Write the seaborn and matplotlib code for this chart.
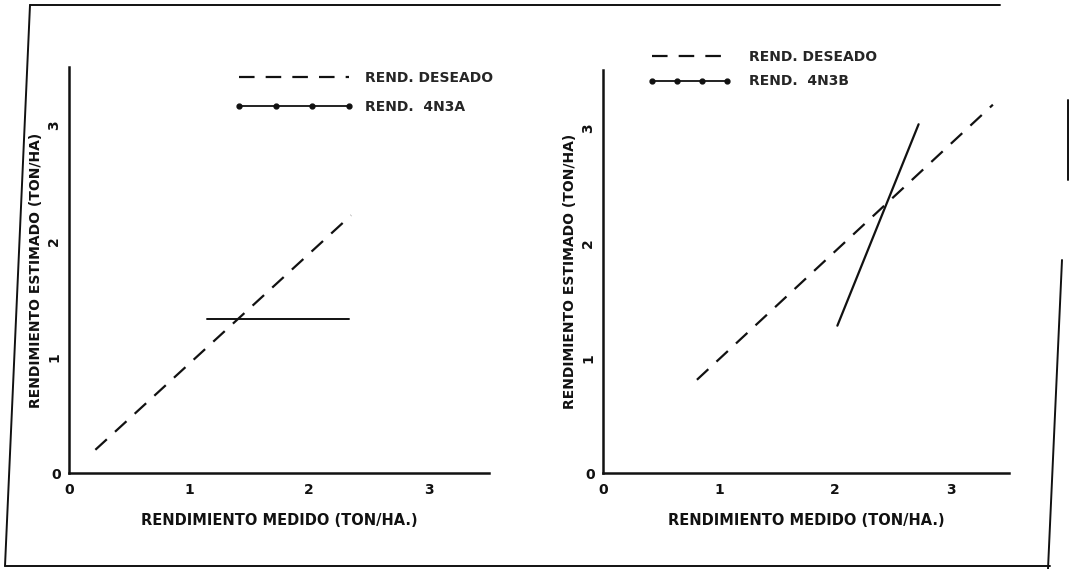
import numpy as np
import pandas as pd
import matplotlib
matplotlib.use("Agg")
import matplotlib.pyplot as plt
from matplotlib.lines import Line2D
import seaborn as sns

# values (ton/ha)
left_desired_x = [0.22, 2.35]
left_desired_y = [0.20, 2.22]
left_4n3a_x = [1.15, 2.33]
left_4n3a_y = [1.33, 1.33]

right_desired_x = [0.81, 3.36]
right_desired_y = [0.81, 3.20]
right_4n3b_x = [2.02, 2.72]
right_4n3b_y = [1.28, 3.03]

tick_values = [0, 1, 2, 3]
tick_labels = ["0", "1", "2", "3"]

x_label = "RENDIMIENTO MEDIDO (TON/HA.)"
y_label = "RENDIMIENTO ESTIMADO (TON/HA)"
legend_desired = "REND. DESEADO"
legend_left = "REND.  4N3A"
legend_right = "REND.  4N3B"

sns.set_theme(style="white")
plt.rcParams['font.family'] = ['DejaVu Sans']
plt.rcParams['font.weight'] = 'bold'

INK = "#111111"
DASH = (0, (7, 5))


def style_axes(ax, x_size):
    ax.set_xlim(0, 3.5)
    ax.set_ylim(0, 3.5)
    sns.despine(ax=ax)
    for side in ['left', 'bottom']:
        ax.spines[side].set_linewidth(1.8)
        ax.spines[side].set_color(INK)
    ax.set_xticks(tick_values)
    ax.set_xticklabels(tick_labels, fontsize=10, fontweight='bold')
    ax.set_yticks(tick_values)
    ax.set_yticklabels(tick_labels, fontsize=10, fontweight='bold')
    for lab in ax.get_yticklabels()[1:]:
        lab.set_rotation(90)
        lab.set_va('center')
    ax.tick_params(direction='inout', length=9, width=1.5, color=INK,
                   labelcolor=INK, pad=3)
    ax.tick_params(axis='y', pad=1)
    ax.set_xlabel(x_label, fontsize=x_size, fontweight='bold', labelpad=11, color=INK)
    ax.set_ylabel(y_label, fontsize=10, fontweight='bold', labelpad=3, color=INK)


def add_legend(ax, label, anchor, spacing, hlen, tpad):
    handles = [
        Line2D([], [], color=INK, lw=1.6, linestyle=DASH),
        Line2D([], [], color=INK, lw=1.3, marker='o', markersize=3.5),
    ]
    ax.legend(handles, [legend_desired, label], loc='upper left',
              bbox_to_anchor=anchor, frameon=False, numpoints=4,
              handlelength=hlen, handletextpad=tpad, labelspacing=spacing,
              borderpad=0, borderaxespad=0,
              prop={'weight': 'bold', 'size': 10})


fig = plt.figure(figsize=(10.69, 5.69), dpi=100)
ax1 = fig.add_axes([0.0645, 0.1687, 0.393, 0.714])
ax2 = fig.add_axes([0.564, 0.1687, 0.380, 0.708])

# left panel
sns.lineplot(x=left_desired_x, y=left_desired_y, ax=ax1, color=INK,
             lw=1.6, linestyle=DASH)
sns.lineplot(x=left_4n3a_x, y=left_4n3a_y, ax=ax1, color=INK, lw=1.4)
style_axes(ax1, 10.5)
add_legend(ax1, legend_left, (0.395, 0.99), 1.1, 8.5, 0.9)

# right panel
sns.lineplot(x=right_desired_x, y=right_desired_y, ax=ax2, color=INK,
             lw=1.6, linestyle=DASH)
sns.lineplot(x=right_4n3b_x, y=right_4n3b_y, ax=ax2, color=INK, lw=1.6)
style_axes(ax2, 10.5)
add_legend(ax2, legend_right, (0.11, 1.05), 0.75, 6.0, 1.3)

# hand-drawn page frame around both panels
frame = [
    ([30, 1000], [5, 5]),
    ([30, 5], [5, 566]),
    ([5, 1050], [566, 566]),
    ([1068, 1068], [100, 180]),
    ([1062, 1048], [260, 569]),
]
for xs, ys in frame:
    fig.add_artist(Line2D([x / 1069 for x in xs], [1 - y / 569 for y in ys],
                          color=INK, lw=1.4, transform=fig.transFigure))

fig.savefig("out.png", dpi=100, facecolor="white")
